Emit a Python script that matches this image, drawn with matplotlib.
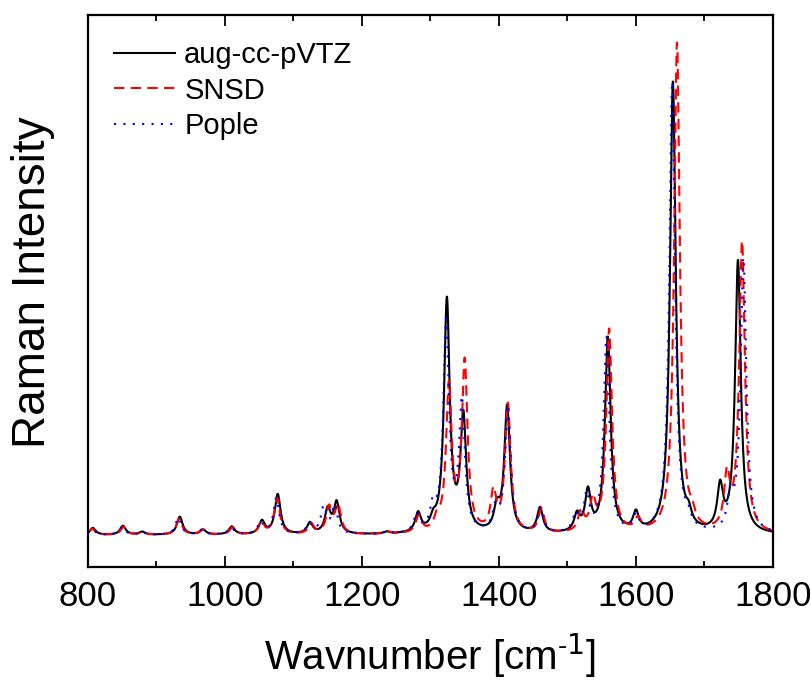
# Raman spectra of three basis sets (Lorentzian-broadened stick spectra)
import numpy as np
import matplotlib.pyplot as plt
from matplotlib.ticker import MultipleLocator

plt.rcParams['font.family'] = ['Liberation Sans', 'DejaVu Sans']

# Peak lists: position [cm-1], height [arb.]
avtz_pos = [807, 851, 879, 934, 968, 1010, 1054, 1077, 1124, 1150, 1163, 1236,
            1282, 1304, 1324, 1348, 1397, 1412, 1460, 1514, 1530, 1559, 1600,
            1654, 1677, 1723, 1749]
avtz_int = [0.07, 0.09, 0.03, 0.18, 0.05, 0.08, 0.13, 0.40, 0.11, 0.24, 0.31, 0.02,
            0.19, 0.10, 2.32, 1.14, 0.22, 1.26, 0.25, 0.17, 0.40, 1.95, 0.18,
            4.51, 0.12, 0.43, 2.72]

snsd_pos = [806, 852, 880, 933, 967, 1011, 1053, 1076, 1126, 1152, 1165, 1238,
            1283, 1310, 1327, 1350, 1392, 1413, 1462, 1520, 1537, 1561, 1603,
            1660, 1682, 1733, 1755]
snsd_int = [0.06, 0.08, 0.03, 0.16, 0.05, 0.07, 0.12, 0.36, 0.10, 0.26, 0.28, 0.02,
            0.17, 0.12, 1.45, 1.69, 0.38, 1.28, 0.24, 0.20, 0.30, 2.03, 0.12,
            4.90, 0.10, 0.52, 2.90]

pople_pos = [806, 850, 879, 932, 967, 1009, 1052, 1075, 1123, 1144, 1160, 1237,
             1280, 1304, 1323, 1346, 1395, 1413, 1461, 1512, 1528, 1557, 1600,
             1653, 1676, 1738, 1757]
pople_int = [0.06, 0.08, 0.03, 0.17, 0.05, 0.07, 0.12, 0.36, 0.10, 0.26, 0.28, 0.02,
             0.18, 0.24, 2.08, 1.28, 0.22, 1.26, 0.24, 0.17, 0.36, 1.95, 0.15,
             4.51, 0.10, 0.32, 2.74]

hwhm = 5.0
wn = np.linspace(800, 1800, 4001)

def broaden(pos, amp):
    spec = np.zeros_like(wn)
    for p, a in zip(pos, amp):
        spec += a * hwhm**2 / ((wn - p)**2 + hwhm**2)
    return spec

fig = plt.figure(figsize=(8.11, 6.8), dpi=100)
ax = fig.add_axes([0.1085, 0.166, 0.8445, 0.812])

ax.plot(wn, broaden(avtz_pos, avtz_int), color='black', lw=1.5, label='aug-cc-pVTZ')
ax.plot(wn, broaden(snsd_pos, snsd_int), color='red', lw=1.5, ls=(0, (5, 3)), label='SNSD')
ax.plot(wn, broaden(pople_pos, pople_int), color='blue', lw=1.5, ls=(0, (1, 3.5)), label='Pople')

ax.set_xlim(800, 1800)
ax.set_ylim(-0.32, 5.20)
ax.set_yticks([])
ax.xaxis.set_major_locator(MultipleLocator(200))
ax.xaxis.set_minor_locator(MultipleLocator(100))
ax.tick_params(axis='x', which='both', direction='in', top=True, width=1.3, labelsize=25, pad=9)
ax.tick_params(axis='x', which='major', length=8)
ax.tick_params(axis='x', which='minor', length=4.5)
for s in ax.spines.values():
    s.set_linewidth(1.6)

ax.set_xlabel('Wavnumber [cm$^{\\mathregular{\u2010}1}$]', fontsize=29, labelpad=14)
ax.set_ylabel('Raman Intensity', fontsize=33)
ax.yaxis.set_label_coords(-0.048, 0.516)

ax.legend(loc='upper left', frameon=False, fontsize=21, handlelength=2.1,
          handletextpad=0.3, labelspacing=0.25, borderaxespad=0.5)

fig.savefig('out.png', dpi=100)
